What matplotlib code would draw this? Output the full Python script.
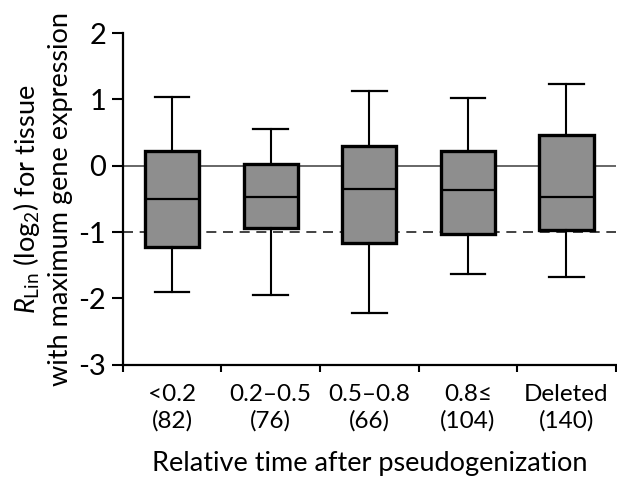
import matplotlib
matplotlib.use("Agg")
import matplotlib.pyplot as plt

plt.rcParams['font.family'] = ['Lato', 'DejaVu Sans']
plt.rcParams['mathtext.fontset'] = 'custom'
plt.rcParams['mathtext.rm'] = 'Lato'
plt.rcParams['mathtext.it'] = 'Lato:italic'

# -------------------------
# data
# -------------------------
groups = ["<0.2", "0.2\u20130.5", "0.5\u20130.8", "0.8\u2264", "Deleted"]
counts = [82, 76, 66, 104, 140]
whislo = [-1.90, -1.95, -2.22, -1.63, -1.68]
q1 = [-1.23, -0.94, -1.16, -1.03, -0.97]
med = [-0.50, -0.47, -0.35, -0.36, -0.47]
q3 = [0.23, 0.02, 0.30, 0.23, 0.46]
whishi = [1.03, 0.56, 1.13, 1.02, 1.23]

stats = []
for i in range(len(groups)):
    stats.append(dict(whislo=whislo[i], q1=q1[i], med=med[i], q3=q3[i],
                      whishi=whishi[i], fliers=[]))

fig = plt.figure(figsize=(6.17, 4.8), dpi=100)
ax = fig.add_axes([0.199, 0.24, 0.799, 0.691])

pos = list(range(1, len(groups) + 1))
ax.axhline(0, color="#5a5a5a", lw=1.3, zorder=1)
ax.axhline(-1, color="#222222", lw=1.2, ls=(0, (6, 4)), zorder=1)

ax.bxp(stats, positions=pos, widths=0.55, patch_artist=True, showfliers=False,
       boxprops=dict(facecolor="#8e8e8e", edgecolor="black", linewidth=2.4),
       medianprops=dict(color="black", linewidth=1.6),
       whiskerprops=dict(color="black", linewidth=1.5),
       capprops=dict(color="black", linewidth=1.6),
       capwidths=0.35, zorder=3)

ax.set_xlim(0.5, 5.5)
ax.set_ylim(-3, 2)
ax.set_yticks([-3, -2, -1, 0, 1, 2])
ax.set_yticklabels(["-3", "-2", "-1", "0", "1", "2"])
ax.set_xticks(pos)
ax.set_xticklabels([f"{g}\n({n})" for g, n in zip(groups, counts)], fontsize=17.5,
                   linespacing=1.3)
ax.set_xticks([p + 0.5 for p in [0] + pos], minor=True)
ax.tick_params(axis="x", which="major", length=0, pad=14)
ax.tick_params(axis="x", which="minor", length=5, width=1.5, direction="out")
ax.tick_params(axis="y", length=8, width=1.5, direction="out", labelsize=21, pad=4)

for s in ["top", "right"]:
    ax.spines[s].set_visible(False)
for s in ["left", "bottom"]:
    ax.spines[s].set_linewidth(1.6)

ax.set_xlabel("Relative time after pseudogenization", fontsize=19.5, labelpad=14)
ax.set_ylabel("$R_{\\mathrm{Lin}}$ (log$_2$) for tissue\nwith maximum gene expression",
              fontsize=19.5, linespacing=1.3, labelpad=4)

fig.savefig("out.png", dpi=100)
